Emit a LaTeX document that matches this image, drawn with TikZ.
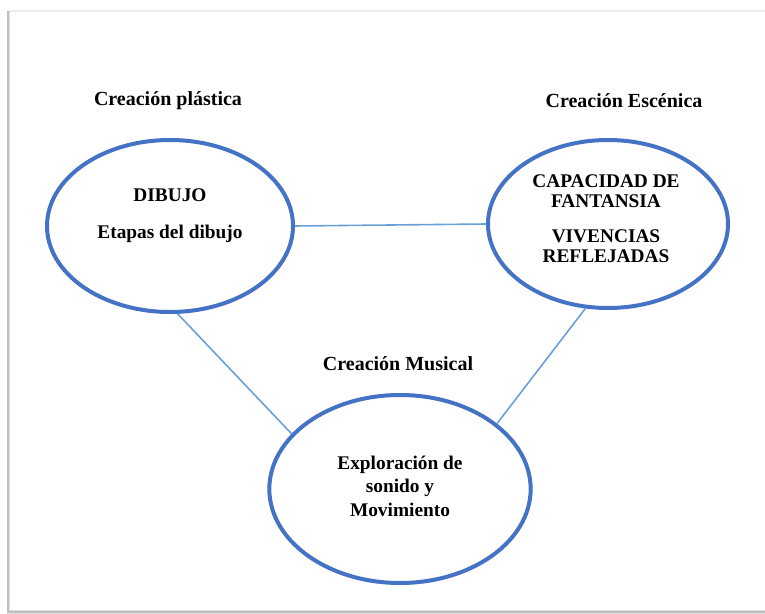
\documentclass[tikz,border=0pt]{standalone}
\usepackage{fontspec}
\setmainfont{Liberation Serif}
\usetikzlibrary{positioning}
\usetikzlibrary{shapes.geometric}
\definecolor{ellipseblue}{HTML}{4472C4}
\definecolor{lineblue}{HTML}{6A9FD8}

\begin{document}
\begin{tikzpicture}[x=0.75pt, y=-0.75pt,
            blueellipsenode/.style={ellipse, draw=ellipseblue, line width=3pt, inner sep=0pt},
            titlenode/.style={font=\fontsize{15}{15}\selectfont\bfseries},
            innertextnode/.style={font=\fontsize{14.5}{15}\selectfont\bfseries, align=center},
            lightblueline/.style={draw=lineblue, line width=1.2pt},
            ]
            \useasboundingbox (0,0) rectangle (765,614);
            % page frame
            \draw[gray!15, line width=1.2pt] (9,11) -- (770,11);
            \draw[gray!25, line width=2.4pt] (8.5,11) -- (8.5,612) -- (770,612);
            \draw[gray!50, line width=0.8pt] (8,11) -- (8,612) -- (770,612);

            \node[blueellipsenode, minimum width=184.5pt, minimum height=129pt] (plastica) at (170,226) {};
            \node[blueellipsenode, minimum width=180pt, minimum height=126pt] (escenica) at (608,224) {};
            \node[blueellipsenode, minimum width=196pt, minimum height=141pt] (musical) at (400,489) {};

            \node[titlenode] (Tplastica) at (168,101) {Creación plástica};
            \node[titlenode] (Tescenica) at (624,101) {Creación Escénica};
            \node[titlenode] (Tmusical) at (398,364) {Creación Musical};

            \node[innertextnode] (Xplastica) at (170,216) {DIBUJO\\[12.75pt]Etapas del dibujo};
            \node[innertextnode] (Xescenica) at (606,219) {CAPACIDAD DE\\FANTANSIA\\[11.25pt]VIVENCIAS\\REFLEJADAS};
            \node[innertextnode, font=\fontsize{14.5}{17.6}\selectfont\bfseries] (Xmusical) at (400,486) {Exploración de\\sonido y\\Movimiento};

            \draw[lightblueline] (plastica.east) -- (escenica.west);
            \draw[lightblueline] (plastica.-85) -- (musical.153);
            \draw[lightblueline] (escenica.-105) -- (musical.34);
        \end{tikzpicture}
\end{document}
